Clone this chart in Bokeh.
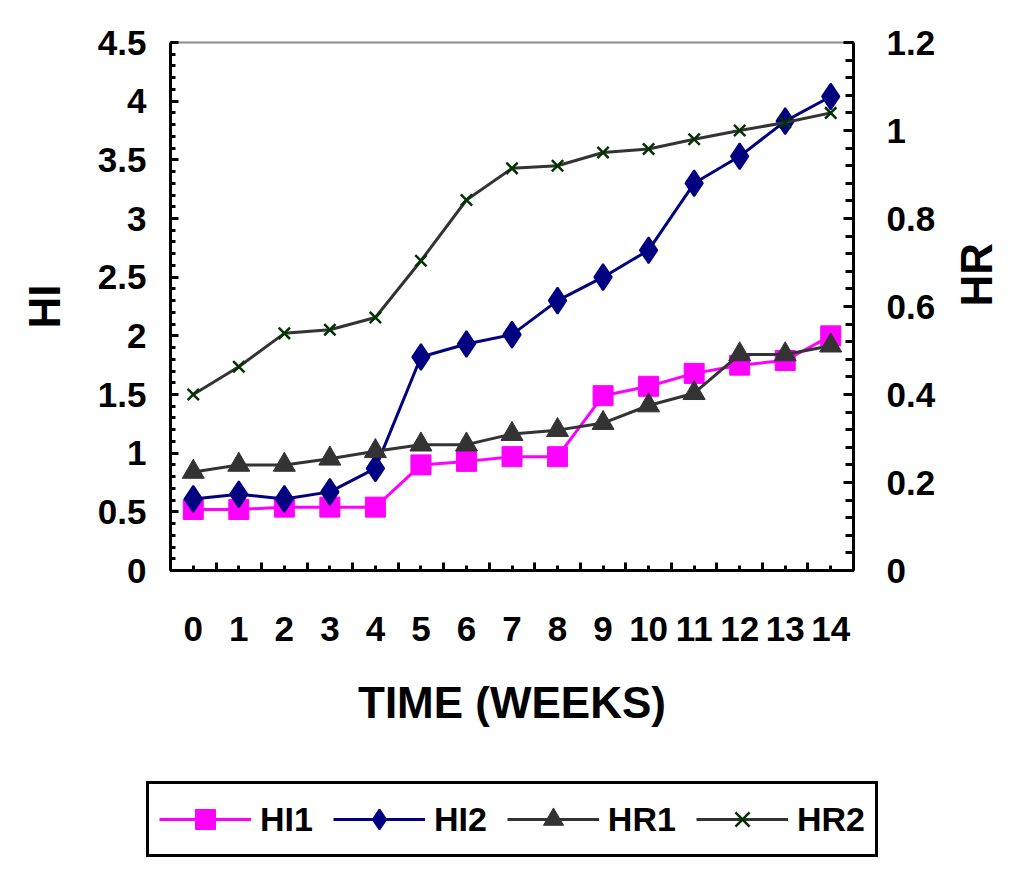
import math
from bokeh.plotting import figure
from bokeh.models import (Range1d, LinearAxis, FixedTicker, Legend, LegendItem,
                          CustomJSTickFormatter)
from bokeh.embed import file_html
from bokeh.resources import INLINE

# ---- data ----
weeks = list(range(15))
week_labels = [str(w) for w in weeks]
hi1 = [0.52, 0.52, 0.54, 0.54, 0.54, 0.90, 0.93, 0.97, 0.97, 1.49, 1.57, 1.68, 1.75, 1.79, 2.00]
hi2 = [0.61, 0.65, 0.61, 0.67, 0.87, 1.82, 1.93, 2.01, 2.30, 2.50, 2.73, 3.30, 3.53, 3.83, 4.04]
hr1 = [0.224, 0.240, 0.240, 0.254, 0.271, 0.286, 0.286, 0.310, 0.319, 0.335, 0.375, 0.403, 0.491, 0.491, 0.511]
hr2 = [0.400, 0.463, 0.539, 0.547, 0.575, 0.704, 0.842, 0.914, 0.920, 0.950, 0.958, 0.980, 1.000, 1.018, 1.040]
series_names = ["HI1", "HI2", "HR1", "HR2"]
hi_ticks = [0, 0.5, 1, 1.5, 2, 2.5, 3, 3.5, 4, 4.5]
hi_minor = [round(i * 0.1, 2) for i in range(46)]
hr_ticks = [0, 0.2, 0.4, 0.6, 0.8, 1.0, 1.2]
hr_minor = [round(i * 0.04, 2) for i in range(31)]
week_bounds = [w - 0.5 for w in weeks] + [14.5]

FONT = "Liberation Sans"
C_HI1, C_HI2, C_HR, C_X = "#ff00ff", "#000080", "#333333", "#003300"

# ---- layout (pixels inside the figure) ----
W, H = 1008, 860
FL, FR, FT, FB = 170, 853, 42, 570          # plot-area edges
X0, X1 = -0.5, 14.5
HI0, HI1 = 0.0, 4.5
HR0, HR1 = 0.0, 1.2

sx = (FR - FL) / (X1 - X0)
sy = (FB - FT) / (HI1 - HI0)
sr = (FB - FT) / (HR1 - HR0)
xr = Range1d(X0 - FL / sx, X1 + (W - FR) / sx)
yr = Range1d(HI0 - (H - FB) / sy, HI1 + FT / sy)
rr = Range1d(HR0 - (H - FB) / sr, HR1 + FT / sr)

p = figure(width=W, height=H, output_backend="svg", toolbar_location=None,
           x_range=xr, y_range=yr, x_axis_location=None, y_axis_location=None,
           min_border=0, background_fill_color="white",
           border_fill_color="white", outline_line_color=None)
p.extra_y_ranges = {"hr": rr}
p.grid.visible = False

fmt = CustomJSTickFormatter(code="return String(parseFloat(tick.toFixed(2)));")

def style_axis(ax, major_in, minor_in, standoff):
    ax.axis_line_color = "black"
    ax.axis_line_width = 3
    ax.major_tick_line_color = "black"
    ax.minor_tick_line_color = "black"
    ax.major_tick_line_width = 3
    ax.minor_tick_line_width = 3
    ax.major_tick_out = 0
    ax.minor_tick_out = 0
    ax.major_tick_in = major_in
    ax.minor_tick_in = minor_in
    ax.major_label_text_font = FONT
    ax.major_label_text_font_style = "bold"
    ax.major_label_text_font_size = "35px"
    ax.major_label_text_color = "black"
    ax.major_label_standoff = standoff
    ax.axis_label_text_font = FONT
    ax.axis_label_text_font_style = "bold"
    ax.axis_label_text_font_size = "44px"
    ax.axis_label_text_color = "black"

# x axis
xa = LinearAxis(fixed_location=HI0, bounds=(X0, X1), axis_label="TIME (WEEKS)")
xa.ticker = FixedTicker(ticks=weeks, minor_ticks=week_bounds)
xa.major_label_overrides = {w: l for w, l in zip(weeks, week_labels)}
style_axis(xa, 5, 8, 46)
xa.axis_label_standoff = 34
p.add_layout(xa, "below")

# top border
ta = LinearAxis(fixed_location=HI1, bounds=(X0, X1), axis_line_color="#8c8c8c",
                axis_line_width=2, major_tick_line_color=None,
                minor_tick_line_color=None, major_label_text_font_size="0px")
ta.ticker = FixedTicker(ticks=[])
p.add_layout(ta, "above")

# left axis
ya = LinearAxis(fixed_location=X0, bounds=(HI0, HI1), axis_label="HI")
ya.ticker = FixedTicker(ticks=hi_ticks, minor_ticks=hi_minor)
ya.formatter = fmt
style_axis(ya, 8, 5, 24)
ya.axis_label_standoff = 26
p.add_layout(ya, "left")

# right axis
ra = LinearAxis(y_range_name="hr", fixed_location=X1, bounds=(HR0, HR1),
                axis_label="HR")
ra.ticker = FixedTicker(ticks=hr_ticks, minor_ticks=hr_minor)
ra.formatter = fmt
style_axis(ra, 10, 8, 33)
ra.axis_label_standoff = 38
ra.axis_label_orientation = math.pi / 2
p.add_layout(ra, "right")

# series
l1 = p.line(weeks, hi1, line_color=C_HI1, line_width=3)
m1 = p.scatter(weeks, hi1, marker="square", size=20, fill_color=C_HI1, line_color=C_HI1)
l2 = p.line(weeks, hi2, line_color=C_HI2, line_width=3)
m2 = p.scatter(weeks, hi2, marker="diamond", size=26, fill_color=C_HI2, line_color=C_HI2,
               line_width=2)
l3 = p.line(weeks, hr1, line_color=C_HR, line_width=3, y_range_name="hr")
m3 = p.scatter(weeks, hr1, marker="triangle", size=22, fill_color=C_HR,
               line_color=C_HR, y_range_name="hr")
l4 = p.line(weeks, hr2, line_color=C_HR, line_width=3, y_range_name="hr")
m4 = p.scatter(weeks, hr2, marker="x", size=16, line_color=C_X,
               line_width=2.5, y_range_name="hr")

legend = Legend(items=[LegendItem(label=n, renderers=r) for n, r in
                       zip(series_names, [[l1, m1], [l2, m2], [l3, m3], [l4, m4]])],
                orientation="horizontal", location=(146, 3))
legend.border_line_color = "black"
legend.border_line_alpha = 1
legend.border_line_width = 3
legend.background_fill_color = "white"
legend.background_fill_alpha = 1
legend.label_text_font = FONT
legend.label_text_font_style = "bold"
legend.label_text_font_size = "34px"
legend.label_text_color = "black"
legend.glyph_width = 92
legend.glyph_height = 50
legend.label_height = 50
legend.label_standoff = 9
legend.spacing = 20
legend.padding = 10
legend.margin = 0
p.add_layout(legend, "center")

open("out.html", "w").write(file_html(p, INLINE))
